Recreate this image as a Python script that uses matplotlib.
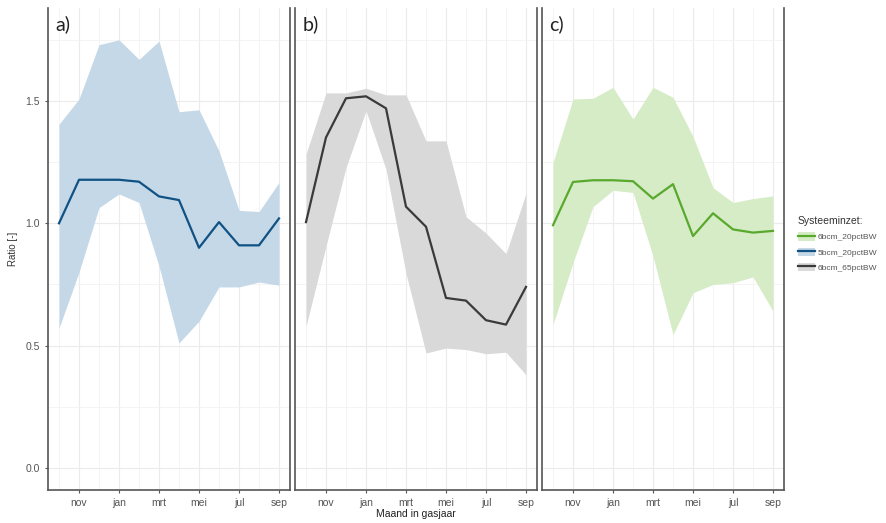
import numpy as np
import matplotlib.pyplot as plt
from matplotlib.lines import Line2D
from matplotlib.patches import Patch

# months of the gas year (okt .. sep)
months = ['okt', 'nov', 'dec', 'jan', 'feb', 'mrt', 'apr', 'mei', 'jun', 'jul', 'aug', 'sep']
tick_labels = ['nov', 'jan', 'mrt', 'mei', 'jul', 'sep']

# a) 5bcm_20pctBW
a_mid = [1.00, 1.178, 1.178, 1.178, 1.17, 1.11, 1.095, 0.90, 1.005, 0.91, 0.91, 1.02]
a_hi = [1.405, 1.508, 1.73, 1.75, 1.67, 1.745, 1.456, 1.464, 1.296, 1.053, 1.048, 1.167]
a_lo = [0.572, 0.80, 1.064, 1.12, 1.085, 0.825, 0.511, 0.60, 0.74, 0.74, 0.76, 0.747]

# b) 6bcm_65pctBW
b_mid = [1.005, 1.351, 1.511, 1.519, 1.47, 1.068, 0.986, 0.695, 0.684, 0.604, 0.586, 0.74]
b_hi = [1.283, 1.533, 1.533, 1.552, 1.525, 1.525, 1.337, 1.337, 1.027, 0.96, 0.876, 1.123]
b_lo = [0.579, 0.907, 1.228, 1.46, 1.221, 0.795, 0.47, 0.49, 0.484, 0.467, 0.473, 0.381]

# c) 6bcm_20pctBW
c_mid = [0.992, 1.169, 1.176, 1.176, 1.172, 1.101, 1.16, 0.948, 1.041, 0.975, 0.962, 0.969]
c_hi = [1.249, 1.508, 1.511, 1.556, 1.426, 1.556, 1.515, 1.355, 1.146, 1.085, 1.101, 1.112]
c_lo = [0.586, 0.839, 1.068, 1.135, 1.126, 0.866, 0.545, 0.716, 0.75, 0.757, 0.781, 0.641]

panels = [
    ('a)', a_mid, a_hi, a_lo, '#0f5283', '#c5d8e8'),
    ('b)', b_mid, b_hi, b_lo, '#3a3a3a', '#d9d9d9'),
    ('c)', c_mid, c_hi, c_lo, '#58a92c', '#d6ecc7'),
]

plt.rcParams['font.family'] = ['Liberation Sans', 'DejaVu Sans']

fig = plt.figure(figsize=(8.86, 5.23), dpi=100)
W, H = 886, 523
lefts = [48, 295, 542]
width = 242
top, bottom = 8, 490

x = np.arange(1, len(months) + 1)

for i, (lab, mid, hi, lo, lc, fc) in enumerate(panels):
    ax = fig.add_axes([lefts[i] / W, 1 - bottom / H, width / W, (bottom - top) / H])
    ax.fill_between(x, lo, hi, color=fc, lw=0, zorder=2)
    ax.plot(x, mid, color=lc, lw=1.6, zorder=3)
    ax.set_xlim(0.45, 12.55)
    ax.set_ylim(-0.09, 1.88)
    ax.set_xticks(x[1::2])
    ax.set_xticklabels(tick_labels)
    ax.set_xticks(x[0::2], minor=True)
    ax.set_yticks([0.0, 0.5, 1.0, 1.5])
    ax.set_yticks([0.25, 0.75, 1.25, 1.75], minor=True)
    ax.grid(True, which='major', color='#ebebeb', lw=0.8, zorder=0)
    ax.grid(True, which='minor', color='#f3f3f3', lw=0.6, zorder=0)
    ax.set_axisbelow(True)
    for s in ['left', 'right', 'bottom']:
        ax.spines[s].set_color('#555555')
        ax.spines[s].set_linewidth(1.2)
    ax.spines['top'].set_visible(False)
    ax.tick_params(axis='x', which='major', length=2.5, color='#555555', labelsize=7.5,
                   labelcolor='#555555', pad=3)
    ax.tick_params(which='minor', length=0)
    if i == 0:
        ax.set_yticklabels(['0.0', '0.5', '1.0', '1.5'])
        ax.tick_params(axis='y', which='major', length=2.5, color='#555555', labelsize=7.5,
                       labelcolor='#555555')
        ax.set_ylabel('Ratio [-]', fontsize=7, color='#333333', labelpad=5)
    else:
        ax.tick_params(axis='y', which='major', length=0, labelleft=False)
    if i == 1:
        ax.set_xlabel('Maand in gasjaar', fontsize=7.5, color='#222222', labelpad=1)
    ax.text(0.03, 0.985, lab, transform=ax.transAxes, fontsize=14, color='#222222',
            ha='left', va='top', family=['Lato', 'DejaVu Sans'])

handles = [
    (Patch(facecolor='#d6ecc7', edgecolor='none'), Line2D([], [], color='#58a92c', lw=1.6)),
    (Patch(facecolor='#c5d8e8', edgecolor='none'), Line2D([], [], color='#0f5283', lw=1.6)),
    (Patch(facecolor='#d9d9d9', edgecolor='none'), Line2D([], [], color='#3a3a3a', lw=1.6)),
]
names = ['6bcm_20pctBW', '5bcm_20pctBW', '6bcm_65pctBW']
leg = fig.legend(handles, names, title='Systeeminzet:', loc='upper left',
                 bbox_to_anchor=(798 / W, 1 - 216 / H), frameon=False, fontsize=6,
                 title_fontsize=7.5, handlelength=2.0, handleheight=1.2, handletextpad=0.4,
                 labelspacing=0.75, borderaxespad=0, borderpad=0)
leg._legend_box.align = 'left'
for t in leg.get_texts():
    t.set_color('#555555')
leg.get_title().set_color('#333333')

fig.savefig('out.png', dpi=100)
